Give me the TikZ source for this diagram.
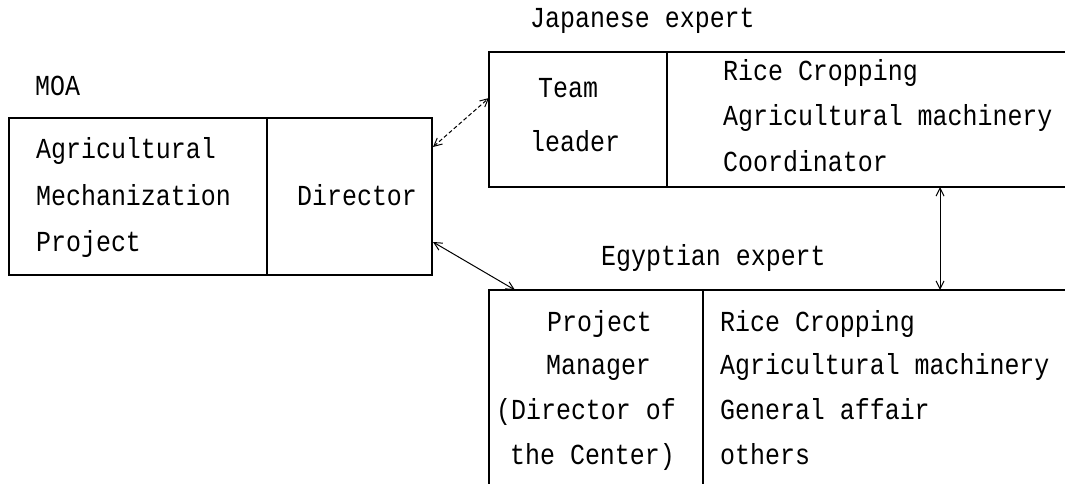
\documentclass[tikz,border=0pt]{standalone}
\usepackage{fontspec}
\setmonofont[FakeStretch=0.86]{Liberation Mono}
\usetikzlibrary{arrows.meta}
\begin{document}
\begin{tikzpicture}[x=1pt,y=-1pt,
  box/.style={line width=1.3pt},
  lbl/.style={anchor=base west,inner sep=0pt,font=\ttfamily\fontsize{29}{34}\selectfont},
  link/.style={line width=1pt,{Straight Barb[length=8pt,width=8pt,line width=1pt]}-{Straight Barb[length=8pt,width=8pt,line width=1pt]}}]
\useasboundingbox (0,0) rectangle (1065,484);
% MOA box
\coordinate (moaTL) at (9,118);
\coordinate (moaBR) at (432,275);
\draw[box] (moaTL) rectangle (moaBR);
\draw[box] (267,118) -- (267,275);
\node[lbl] (moa) at (35,96) {MOA};
\node[lbl] (m1) at (36,158) {Agricultural};
\node[lbl] (m2) at (36,205) {Mechanization};
\node[lbl] (m3) at (36,251) {Project};
\node[lbl] (dir) at (297,205) {Director};
% Japanese box
\draw[box] (1065,52) -- (489,52) -- (489,187) -- (1065,187);
\draw[box] (667,52) -- (667,187);
\node[lbl] (jx) at (530,28) {Japanese expert};
\node[lbl] (j1) at (538,98) {Team};
\node[lbl] (j2) at (530,151) {leader};
\node[lbl] (j3) at (723,81) {Rice Cropping};
\node[lbl] (j4) at (723,126) {Agricultural machinery};
\node[lbl] (j5) at (723,171) {Coordinator};
% Egyptian box
\draw[box] (1065,290) -- (489,290) -- (489,484);
\draw[box] (703,290) -- (703,484);
\node[lbl] (ex) at (601,265) {Egyptian expert};
\node[lbl] (e1) at (547,331) {Project};
\node[lbl] (e2) at (546,374) {Manager};
\node[lbl] (e3) at (496,419) {(Director of};
\node[lbl] (e4) at (510,464) {the Center)};
\node[lbl] (e5) at (720,331) {Rice Cropping};
\node[lbl] (e6) at (720,374) {Agricultural machinery};
\node[lbl] (e7) at (720,419) {General affair};
\node[lbl] (e8) at (720,464) {others};
% connectors
\coordinate (dA) at (433,147);
\coordinate (tA) at (489,98);
\coordinate (dB) at (433,242);
\coordinate (pB) at (515,290);
\coordinate (jV) at (940,187);
\coordinate (eV) at (940,290);
\draw[link,dash pattern=on 4pt off 2.5pt] (dA) -- (tA);
\draw[link] (dB) -- (pB);
\draw[link] (jV) -- (eV);
\end{tikzpicture}
\end{document}
